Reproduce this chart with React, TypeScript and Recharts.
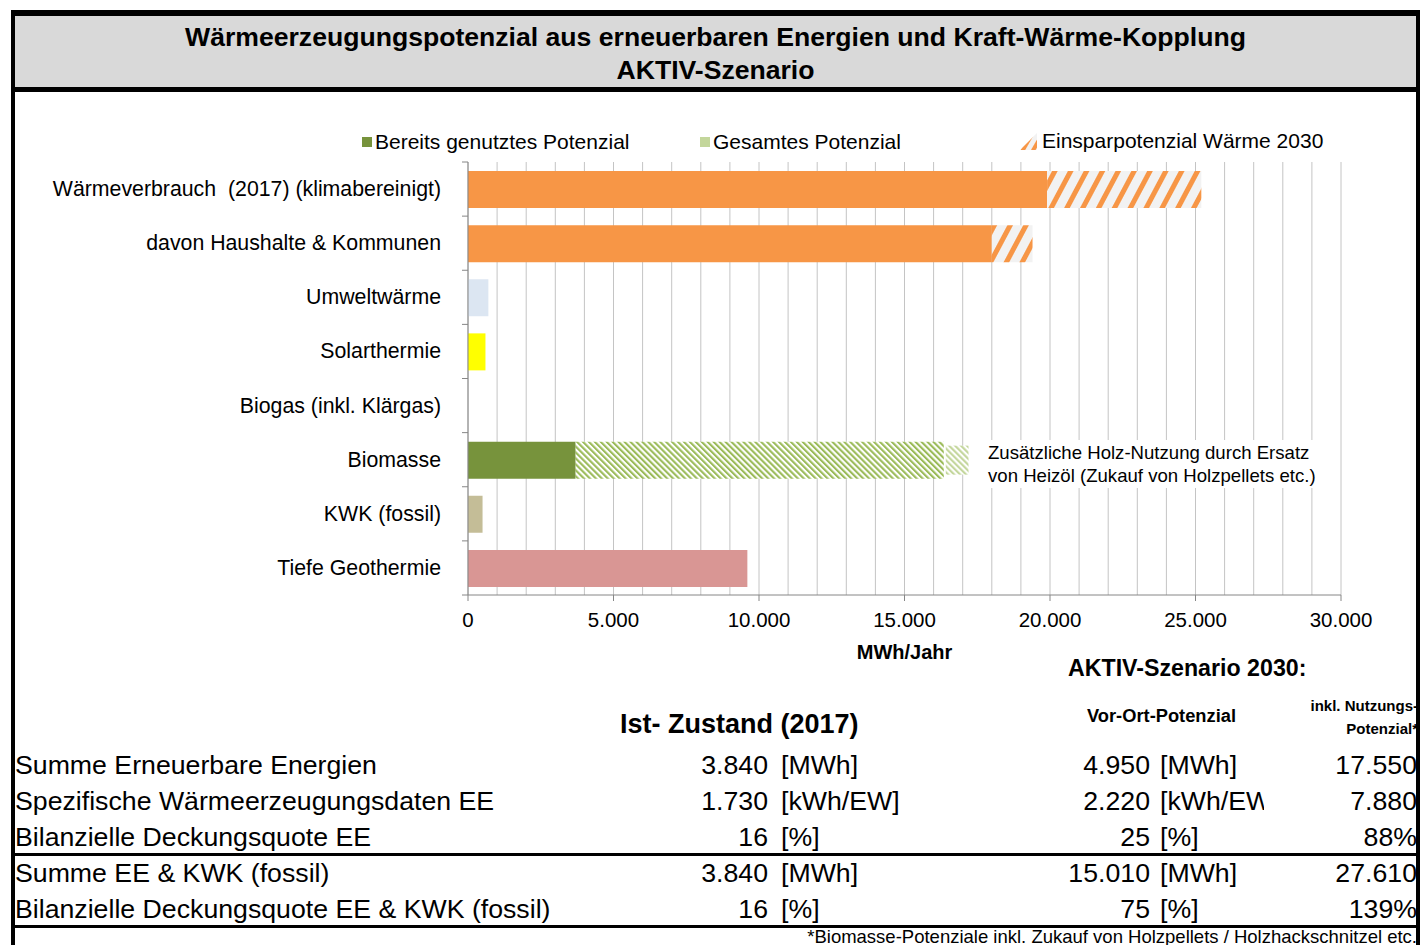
import React from "react";
import { Bar, BarChart, CartesianGrid, Cell, XAxis, YAxis } from "recharts";

const CATEGORIES = [
  "Wärmeverbrauch  (2017) (klimabereinigt)",
  "davon Haushalte & Kommunen",
  "Umweltwärme",
  "Solarthermie",
  "Biogas (inkl. Klärgas)",
  "Biomasse",
  "KWK (fossil)",
  "Tiefe Geothermie",
];
// MWh/Jahr
const USED = [19900, 18000, 700, 600, 0, 3700, 500, 9600];
const POTENTIAL = [5300, 1400, 0, 0, 0, 12650, 0, 0];
const EXTRA = [0, 0, 0, 0, 0, 850, 0, 0];

const USED_COLORS = ["#F79646", "#F79646", "#DCE6F2", "#FFFF00", "#77933C", "#77933C", "#C4BD97", "#D99694"];
const POTENTIAL_FILLS = [
  "url(#hatchOrange)",
  "url(#hatchOrange)",
  "none",
  "none",
  "none",
  "url(#hatchGreen)",
  "none",
  "none",
];

const MAJOR_TICKS = [0, 5000, 10000, 15000, 20000, 25000, 30000];
const MINOR_TICKS = [
  0, 1000, 2000, 3000, 4000, 5000, 6000, 7000, 8000, 9000, 10000, 11000, 12000, 13000, 14000, 15000,
  16000, 17000, 18000, 19000, 20000, 21000, 22000, 23000, 24000, 25000, 26000, 27000, 28000, 29000, 30000,
];

const TABLE_LABELS = [
  "Summe Erneuerbare Energien",
  "Spezifische Wärmeerzeugungsdaten EE",
  "Bilanzielle Deckungsquote EE",
  "Summe EE & KWK (fossil)",
  "Bilanzielle Deckungsquote EE & KWK (fossil)",
];
const IST_VALUES = ["3.840", "1.730", "16", "3.840", "16"];
const IST_UNITS = ["[MWh]", "[kWh/EW]", "[%]", "[MWh]", "[%]"];
const VOR_ORT_VALUES = ["4.950", "2.220", "25", "15.010", "75"];
const VOR_ORT_UNITS = ["[MWh]", "[kWh/EW]", "[%]", "[MWh]", "[%]"];
const INKL_VALUES = ["17.550", "7.880", "88%", "27.610", "139%"];

const data = CATEGORIES.map((name, i) => ({
  name,
  used: USED[i],
  potential: POTENTIAL[i],
  extra: EXTRA[i],
}));

const FONT = "'Liberation Sans', Arial, Helvetica, sans-serif";
const AXIS_GREY = "#868686";

const thousands = (v: number) => String(v).replace(/\B(?=(\d{3})+(?!\d))/g, ".");

function CategoryTick(props: any) {
  const { x, y, payload, index } = props;
  const half = payload && typeof payload.offset === "number" ? payload.offset : 27;
  const axisX = x + 27;
  return (
    <g>
      <line x1={axisX - 6} x2={axisX} y1={y - half} y2={y - half} stroke={AXIS_GREY} />
      {index === CATEGORIES.length - 1 && (
        <line x1={axisX - 6} x2={axisX} y1={y + half} y2={y + half} stroke={AXIS_GREY} />
      )}
      <text
        x={x}
        y={y}
        textAnchor="end"
        dominantBaseline="central"
        fontSize={21.3}
        fill="#000"
        style={{ whiteSpace: "pre" }}
      >
        {payload.value}
      </text>
    </g>
  );
}

// only every 5.000 gets a label and a tick mark
function ValueTick(props: any) {
  const { x, y, payload } = props;
  if (!MAJOR_TICKS.includes(payload.value)) return null;
  const axisY = y - 17;
  return (
    <g>
      <line x1={x} x2={x} y1={axisY} y2={axisY + 6} stroke={AXIS_GREY} />
      <text x={x} y={y} textAnchor="middle" dominantBaseline="hanging" fontSize={20.5} fill="#000">
        {thousands(payload.value)}
      </text>
    </g>
  );
}

function ExtraShape(props: any) {
  const { x, y, width, height } = props;
  if (!width || width <= 0) return null;
  return <rect x={x + 2} y={y + 4} width={Math.max(width - 2, 0)} height={height - 8} fill="url(#hatchLight)" />;
}

const abs = (style: React.CSSProperties): React.CSSProperties => ({ position: "absolute", ...style });

export default function App() {
  return (
    <div
      style={{
        position: "absolute",
        left: 0,
        top: 0,
        width: 1420,
        height: 945,
        background: "#fff",
        overflow: "hidden",
        fontFamily: FONT,
        color: "#000",
      }}
    >
      {/* frame + header */}
      <div style={abs({ left: 11, top: 10, width: 1409, height: 6, background: "#000" })} />
      <div style={abs({ left: 11, top: 10, width: 4, height: 935, background: "#000" })} />
      <div style={abs({ left: 1416, top: 10, width: 4, height: 935, background: "#000" })} />
      <div style={abs({ left: 15, top: 16, width: 1401, height: 71, background: "#D9D9D9" })} />
      <div style={abs({ left: 11, top: 87, width: 1409, height: 5, background: "#000" })} />
      <div
        style={abs({
          left: 15,
          top: 21,
          width: 1401,
          textAlign: "center",
          fontWeight: "bold",
          fontSize: 26.6,
          lineHeight: "33px",
        })}
      >
        Wärmeerzeugungspotenzial aus erneuerbaren Energien und Kraft-Wärme-Kopplung
        <br />
        AKTIV-Szenario
      </div>

      {/* legend */}
      <div style={abs({ left: 362, top: 137, width: 10, height: 10, background: "#77933C" })} />
      <div style={abs({ left: 375, top: 129, fontSize: 21, lineHeight: "26px" })}>Bereits genutztes Potenzial</div>
      <div style={abs({ left: 700, top: 137, width: 10, height: 10, background: "#C3D69B" })} />
      <div style={abs({ left: 713, top: 129, fontSize: 21, lineHeight: "26px" })}>Gesamtes Potenzial</div>
      <svg width={17} height={17} style={abs({ left: 1020, top: 133 })}>
        <defs>
          <pattern id="hatchOrangeLegend" patternUnits="userSpaceOnUse" width="9" height="9" patternTransform="rotate(30)">
            <rect width="9" height="9" fill="#F2F2F2" />
            <rect width="4" height="9" fill="#F79646" />
          </pattern>
        </defs>
        <polygon points="0,17 17,0 17,17" fill="url(#hatchOrangeLegend)" />
      </svg>
      <div style={abs({ left: 1042, top: 128, fontSize: 21, lineHeight: "26px" })}>Einsparpotenzial Wärme 2030</div>

      {/* chart */}
      <div style={abs({ left: 0, top: 92 })}>
        <BarChart
          width={1420}
          height={588}
          data={data}
          layout="vertical"
          margin={{ top: 70, right: 79, bottom: 15, left: 0 }}
          barCategoryGap="32%"
        >
          <defs>
            <pattern id="hatchOrange" patternUnits="userSpaceOnUse" width="14" height="14" patternTransform="rotate(28)">
              <rect width="14" height="14" fill="#F2F2F2" />
              <rect width="5" height="14" fill="#F79646" />
            </pattern>
            <pattern id="hatchGreen" patternUnits="userSpaceOnUse" width="4.2" height="4.2" patternTransform="rotate(-45)">
              <rect width="4.2" height="4.2" fill="#FFFFFF" />
              <rect width="2.1" height="4.2" fill="#9BBB59" />
            </pattern>
            <pattern id="hatchLight" patternUnits="userSpaceOnUse" width="4.2" height="4.2" patternTransform="rotate(-45)">
              <rect width="4.2" height="4.2" fill="#FFFFFF" />
              <rect width="2.1" height="4.2" fill="#C3D69B" />
            </pattern>
          </defs>
          <CartesianGrid horizontal={false} stroke="#C4C4C4" />
          <XAxis
            type="number"
            domain={[0, 30000]}
            ticks={MINOR_TICKS}
            interval={0}
            tick={<ValueTick />}
            tickSize={6}
            tickMargin={11}
            tickLine={false}
            axisLine={{ stroke: AXIS_GREY }}
            height={70}
            label={{
              value: "MWh/Jahr",
              position: "insideBottom",
              offset: 6,
              style: { fontWeight: "bold", fontSize: 20, fill: "#000" },
            }}
          />
          <YAxis
            type="category"
            dataKey="name"
            width={468}
            tick={<CategoryTick />}
            tickLine={false}
            tickSize={6}
            tickMargin={21}
            axisLine={{ stroke: AXIS_GREY }}
            interval={0}
          />
          <Bar dataKey="used" stackId="a" barSize={37} isAnimationActive={false}>
            {USED_COLORS.map((c, i) => (
              <Cell key={i} fill={c} />
            ))}
          </Bar>
          <Bar dataKey="potential" stackId="a" barSize={37} isAnimationActive={false}>
            {POTENTIAL_FILLS.map((c, i) => (
              <Cell key={i} fill={c} />
            ))}
          </Bar>
          <Bar dataKey="extra" stackId="a" barSize={37} shape={<ExtraShape />} isAnimationActive={false} />
        </BarChart>
      </div>

      {/* annotation */}
      <div
        style={abs({
          left: 975,
          top: 440,
          width: 347,
          height: 47,
          paddingLeft: 13,
          paddingTop: 1,
          background: "#fff",
          fontSize: 18.6,
          lineHeight: "23px",
        })}
      >
        Zusätzliche Holz-Nutzung durch Ersatz
        <br />
        von Heizöl (Zukauf von Holzpellets etc.)
      </div>

      {/* table */}
      <div style={abs({ left: 1068, top: 654, fontSize: 23.2, fontWeight: "bold", lineHeight: "28px" })}>
        AKTIV-Szenario 2030:
      </div>
      <div style={abs({ left: 620, top: 708, fontSize: 27, fontWeight: "bold", lineHeight: "32px" })}>
        Ist- Zustand (2017)
      </div>
      <div style={abs({ left: 1087, top: 704, fontSize: 18.3, fontWeight: "bold", lineHeight: "24px" })}>
        Vor-Ort-Potenzial
      </div>
      <div
        style={abs({
          left: 1250,
          top: 694,
          width: 168,
          textAlign: "right",
          fontSize: 15,
          fontWeight: "bold",
          lineHeight: "23px",
        })}
      >
        inkl. Nutzungs-
        <br />
        Potenzial*
      </div>

      {TABLE_LABELS.map((label, i) => (
        <div
          key={label}
          style={abs({ left: 0, top: 747 + i * 36, width: 1420, height: 36, fontSize: 26.7, lineHeight: "36px" })}
        >
          <span style={abs({ left: 15, top: 0, whiteSpace: "nowrap" })}>{label}</span>
          <span style={abs({ left: 600, top: 0, width: 168, textAlign: "right" })}>{IST_VALUES[i]}</span>
          <span style={abs({ left: 781, top: 0, whiteSpace: "nowrap" })}>{IST_UNITS[i]}</span>
          <span style={abs({ left: 1000, top: 0, width: 150, textAlign: "right" })}>{VOR_ORT_VALUES[i]}</span>
          <span style={abs({ left: 1160, top: 0, width: 104, overflow: "hidden", whiteSpace: "nowrap" })}>
            {VOR_ORT_UNITS[i]}
          </span>
          <span style={abs({ left: 1266, top: 0, width: 151, textAlign: "right" })}>{INKL_VALUES[i]}</span>
        </div>
      ))}
      <div style={abs({ left: 11, top: 853, width: 1409, height: 3, background: "#000" })} />
      <div style={abs({ left: 11, top: 925, width: 1409, height: 3, background: "#000" })} />
      <div style={abs({ left: 600, top: 927, width: 817, textAlign: "right", fontSize: 18.5, lineHeight: "20px" })}>
        *Biomasse-Potenziale inkl. Zukauf von Holzpellets / Holzhackschnitzel etc.
      </div>
    </div>
  );
}
